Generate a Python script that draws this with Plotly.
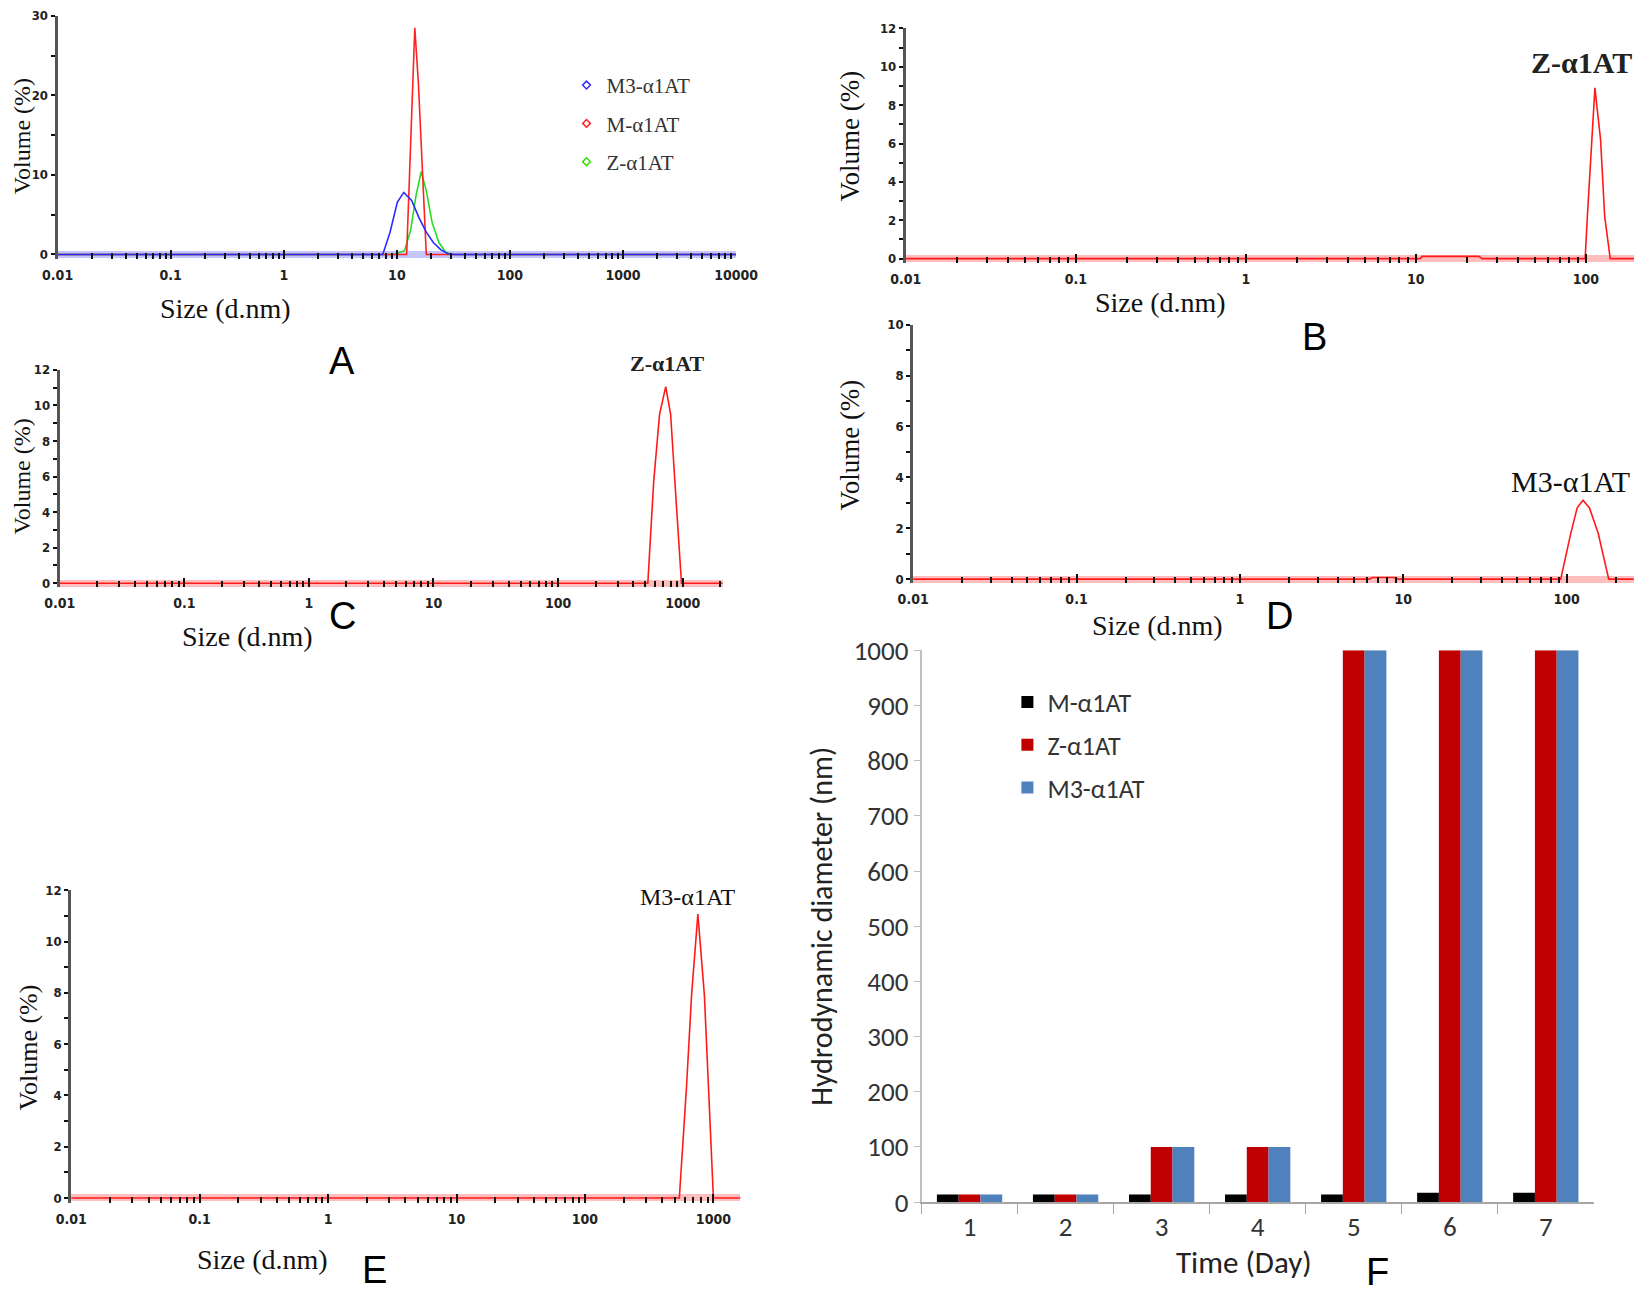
import plotly.graph_objects as go

# ---- panel A: size distributions, three variants (size in d.nm, volume %)
a_m3_size = [0.01, 7.5, 8.7, 10.1, 11.5, 13.5, 15.7, 18.2, 21.0, 24.4, 28.2, 32.0, 10000]
a_m3_vol = [0, 0, 2.8, 6.6, 7.8, 6.8, 4.6, 2.8, 1.5, 0.6, 0.1, 0, 0]
a_m_size = [0.01, 12.2, 14.4, 15.5, 18.2, 10000]
a_m_vol = [0, 0, 28.5, 21.5, 0, 0]
a_z_size = [0.01, 9.5, 11.7, 13.2, 14.8, 16.4, 18.2, 20.5, 23.5, 27.0, 30.0, 10000]
a_z_vol = [0, 0, 0.5, 3.0, 7.5, 10.4, 8.0, 4.0, 1.5, 0.3, 0, 0]

# ---- panel B: Z-a1AT
b_size = [0.01, 10.6, 10.9, 23.5, 24.5, 99, 102, 108, 113, 122, 129, 139, 220]
b_vol = [0, 0, 0.12, 0.12, 0, 0, 2.2, 6.2, 8.9, 6.2, 2.2, 0, 0]

# ---- panel C: Z-a1AT
c_size = [0.01, 525, 585, 652, 731, 800, 875, 978, 2100]
c_vol = [0, 0, 5.7, 9.5, 11.05, 9.5, 5.2, 0, 0]

# ---- panel D: M3-a1AT
d_size = [0.01, 6.2, 6.5, 8.8, 9.2, 92, 106, 116, 126, 138, 156, 181, 260]
d_vol = [0, 0, 0.06, 0.06, 0, 0, 1.8, 2.8, 3.1, 2.8, 1.8, 0, 0]

# ---- panel E: M3-a1AT
e_size = [0.01, 543, 617, 676, 757, 851, 916, 1000, 1660]
e_vol = [0, 0, 4.3, 7.9, 11.07, 7.9, 4.3, 0, 0]

# ---- panel F: hydrodynamic diameter over time
f_days = ["1", "2", "3", "4", "5", "6", "7"]
f_m = [14, 14, 14, 14, 14, 17, 17]
f_z = [14, 14, 100, 100, 1000, 1000, 1000]
f_m3 = [14, 14, 100, 100, 1000, 1000, 1000]

# positions below were measured on a 1568-wide view of the reference
S = 1642 / 1568.0
OFF = 8  # page margin the browser puts around the figure
FW, FH = 1642 - OFF, 1296 - OFF

SERIF = "Liberation Serif, Times New Roman, serif"
NARROW = "Liberation Sans Narrow, DejaVu Sans Condensed, Arial Narrow, sans-serif"
SANS = "Liberation Sans, Arial, sans-serif"
CALI = "Carlito, Lato, Open Sans, sans-serif"


def px_x(v):
    return (v * S - OFF) / FW


def px_y(v):
    return 1 - (v * S - OFF) / FH


def clamp(v):
    return max(0.0, min(1.0, v))


def size_axis(x0, x1, y_anchor, top_exp):
    majors = [10.0 ** e for e in range(-2, int(top_exp) + 1)]
    minors = [k * 10.0 ** e for e in range(-2, int(top_exp) + 1) for k in range(2, 10)]
    return dict(
        type="log", domain=[clamp(px_x(x0)), clamp(px_x(x1))], anchor=y_anchor, range=[-2, top_exp],
        tickvals=majors, ticktext=[f"{v:g}" for v in majors],
        showline=False, ticks="inside", ticklen=9, tickwidth=2, tickcolor="#111",
        minor=dict(tickvals=minors, ticks="inside", ticklen=6, tickwidth=2, tickcolor="#111"),
        showgrid=False, zeroline=False, ticklabelstandoff=6,
        tickfont=dict(family=NARROW, size=14, color="#222", weight="bold"),
    )


def volume_axis(y0, y1, x_anchor, top, step, minor_step, band):
    pad = top * 0.017
    return dict(
        domain=[clamp(px_y(y0 + pad / top * (y0 - y1))), clamp(px_y(y1))], anchor=x_anchor,
        range=[-pad, top * 1.0005], ticklabeloverflow="allow",
        tick0=0, dtick=step, showline=True, linecolor="#555", linewidth=3,
        ticks="outside", ticklen=4, tickwidth=2, tickcolor="#111", ticklabelstandoff=0,
        minor=dict(tick0=0, dtick=minor_step, ticks="outside", ticklen=4, tickwidth=2, tickcolor="#111"),
        showgrid=False, zeroline=True, zerolinecolor=band, zerolinewidth=7,
        tickfont=dict(family=NARROW, size=13, color="#222", weight="bold"),
    )


fig = go.Figure()

# panel A curves
fig.add_trace(go.Scatter(x=a_z_size, y=a_z_vol, mode="lines", line=dict(color="#22dd22", width=1.6),
                         xaxis="x", yaxis="y", showlegend=False))
fig.add_trace(go.Scatter(x=a_m_size, y=a_m_vol, mode="lines", line=dict(color="#ff2020", width=1.6),
                         xaxis="x", yaxis="y", showlegend=False))
fig.add_trace(go.Scatter(x=a_m3_size, y=a_m3_vol, mode="lines", line=dict(color="#2b2bff", width=1.6),
                         xaxis="x", yaxis="y", showlegend=False))
# legend entries for panel A (marker-only keys)
for name, col in [("M3-α1AT", "#2b2bff"), ("M-α1AT", "#ff2020"), ("Z-α1AT", "#33dd00")]:
    fig.add_trace(go.Scatter(x=[None], y=[None], mode="markers", name=name,
                             marker=dict(symbol="diamond-open", size=6, color=col, line=dict(width=1.5)),
                             xaxis="x", yaxis="y", legend="legend", legendgroup=name))

red = dict(color="#ff1a1a", width=1.6)
fig.add_trace(go.Scatter(x=b_size, y=b_vol, mode="lines", line=red, xaxis="x2", yaxis="y2", showlegend=False))
fig.add_trace(go.Scatter(x=c_size, y=c_vol, mode="lines", line=red, xaxis="x3", yaxis="y3", showlegend=False))
fig.add_trace(go.Scatter(x=d_size, y=d_vol, mode="lines", line=red, xaxis="x4", yaxis="y4", showlegend=False))
fig.add_trace(go.Scatter(x=e_size, y=e_vol, mode="lines", line=red, xaxis="x5", yaxis="y5", showlegend=False))

# panel F bars
for name, vals, col in [("M-α1AT", f_m, "#000000"), ("Z-α1AT", f_z, "#C00000"), ("M3-α1AT", f_m3, "#4F81BD")]:
    fig.add_trace(go.Bar(x=f_days, y=vals, name=name, marker=dict(color=col, line=dict(width=0)),
                         xaxis="x6", yaxis="y6", legend="legend2", legendgroup="f" + name))

pink = "rgba(255,70,70,0.35)"
lay = dict(
    width=FW, height=FH, margin=dict(l=0, r=0, t=0, b=0, autoexpand=False),
    paper_bgcolor="white", plot_bgcolor="rgba(0,0,0,0)",
    barmode="group", bargap=0.32, bargroupgap=0,
    xaxis=size_axis(55, 703, "y", 4),
    yaxis=volume_axis(243, 15, "x", 30, 10, 5, "rgba(90,90,255,0.35)"),
    xaxis2=size_axis(865, 1568, "y2", 2.33),
    yaxis2=volume_axis(247, 27, "x2", 12, 2, 1, pink),
    xaxis3=size_axis(57, 690, "y3", 3.32),
    yaxis3=volume_axis(557, 353, "x3", 12, 2, 1, pink),
    xaxis4=size_axis(872, 1560, "y4", 2.41),
    yaxis4=volume_axis(553, 310, "x4", 10, 2, 1, pink),
    xaxis5=size_axis(68, 707, "y5", 3.21),
    yaxis5=volume_axis(1144, 850, "x5", 12, 2, 1, pink),
    xaxis6=dict(domain=[px_x(880), px_x(1522)], anchor="y6", showline=True, linecolor="#a6a6a6",
                linewidth=1.5, ticks="outside", tickson="boundaries", ticklen=10, tickcolor="#a6a6a6",
                showgrid=False, tickfont=dict(family=CALI, size=27, color="#333")),
    yaxis6=dict(domain=[px_y(1148), px_y(621)], anchor="x6", range=[0, 1000], dtick=100,
                showline=True, linecolor="#bfbfbf", linewidth=1.5, ticks="outside", ticklen=6,
                tickcolor="#bfbfbf", showgrid=False, zeroline=False,
                tickfont=dict(family=CALI, size=27, color="#333")),
    legend=dict(x=px_x(541), y=px_y(62), xanchor="left", yanchor="top", bgcolor="rgba(0,0,0,0)",
                font=dict(family=SERIF, size=21, color="#333"), tracegroupgap=8, itemwidth=30),
    legend2=dict(x=px_x(962), y=px_y(648), xanchor="left", yanchor="top", bgcolor="rgba(0,0,0,0)",
                 font=dict(family=CALI, size=26, color="#333"), tracegroupgap=6, itemwidth=30),
)
fig.update_layout(**lay)

annotations = []


def text(s, x, y, size, family, angle=0, bold=False, color="#111"):
    annotations.append(dict(text=f"<b>{s}</b>" if bold else s, x=px_x(x), y=px_y(y), xref="paper",
                            yref="paper", xanchor="center", yanchor="middle", showarrow=False,
                            textangle=angle, font=dict(family=family, size=size, color=color)))


# axis titles for size distributions
for vx, vy, sx, sy, vs in [(21, 130, 215, 295, 24), (812, 130, 1108, 289, 27), (21, 455, 236, 608, 24),
                           (812, 425, 1105, 597, 27), (27, 1000, 251, 1203, 26)]:
    text("Volume (%)", vx, vy, vs, SERIF, angle=-90)
    text("Size (d.nm)", sx, sy, 28, SERIF)

# peak labels
text("Z-α1AT", 1510, 60, 30, SERIF, bold=True, color="#222")
text("Z-α1AT", 637, 347, 22, SERIF, bold=True, color="#222")
text("M3-α1AT", 1500, 460, 30, SERIF, color="#111")
text("M3-α1AT", 657, 857, 24, SERIF, color="#111")

# panel F titles
text("Hydrodynamic diameter (nm)", 785, 885, 30, CALI, angle=-90, color="#222")
text("Time (Day)", 1188, 1205, 31, CALI, color="#222")

# panel letters
for s, x, y in [("A", 327, 345), ("B", 1255, 322), ("C", 327, 588), ("D", 1222, 588),
                ("E", 358, 1213), ("F", 1315, 1215)]:
    text(s, x, y, 38, SANS, color="#000")

fig.update_layout(annotations=annotations)
fig.write_html("out.html")
